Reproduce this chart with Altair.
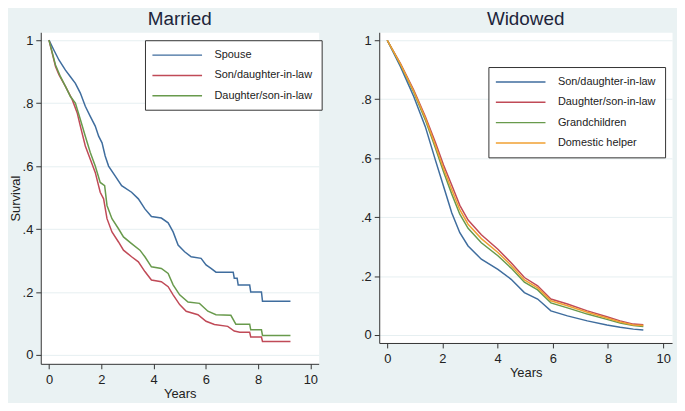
import altair as alt
import pandas as pd

# ---------------- Married panel ----------------
married_series = ["Spouse", "Son/daughter-in-law", "Daughter/son-in-law"]
married_colors = ["#3f6d9e", "#c04a57", "#689a4c"]

spouse_t = [0, 0.19, 0.38, 0.63, 0.82, 1.01, 1.2, 1.39, 1.58, 1.77, 1.9, 2.03, 2.15, 2.28, 2.53, 2.78,
            3.16, 3.42, 3.67, 3.92, 4.3, 4.56, 4.75, 4.94, 5.19, 5.44, 5.82, 6.01, 6.2, 6.39, 7.05,
            7.09, 7.2, 7.24, 7.68, 7.72, 8.13, 8.17, 9.24]
spouse_s = [1.0, 0.968, 0.937, 0.905, 0.884, 0.863, 0.832, 0.79, 0.758, 0.727, 0.695, 0.674, 0.632, 0.60,
            0.569, 0.538, 0.517, 0.496, 0.464, 0.44, 0.435, 0.42, 0.391, 0.349, 0.328, 0.312, 0.307,
            0.286, 0.275, 0.263, 0.263, 0.244, 0.244, 0.222, 0.222, 0.2, 0.2, 0.171, 0.171]

sondil_t = [0, 0.25, 0.38, 0.63, 0.89, 1.08, 1.2, 1.39, 1.58, 1.77, 1.96, 2.09, 2.22, 2.41, 2.66, 2.85,
            3.16, 3.42, 3.67, 3.92, 4.3, 4.56, 4.75, 5.0, 5.25, 5.7, 6.01, 6.33, 6.84, 7.09, 7.3, 7.68,
            7.72, 8.13, 8.17, 9.24]
sondil_s = [1.0, 0.916, 0.89, 0.853, 0.811, 0.769, 0.727, 0.664, 0.622, 0.58, 0.517, 0.496, 0.433, 0.391,
            0.359, 0.333, 0.312, 0.296, 0.265, 0.238, 0.233, 0.217, 0.191, 0.16, 0.139, 0.128, 0.107,
            0.097, 0.091, 0.076, 0.072, 0.072, 0.057, 0.057, 0.043, 0.043]

dausil_t = [0, 0.25, 0.44, 0.63, 0.82, 1.01, 1.2, 1.39, 1.58, 1.77, 1.96, 2.13, 2.22, 2.41, 2.66, 2.85,
            3.16, 3.48, 3.67, 3.92, 4.3, 4.56, 4.75, 5.0, 5.32, 5.76, 6.08, 6.39, 6.96, 7.15, 7.68, 7.72,
            8.13, 8.17, 9.24]
dausil_s = [1.0, 0.921, 0.884, 0.853, 0.821, 0.8, 0.748, 0.695, 0.643, 0.6, 0.548, 0.538, 0.475, 0.433,
            0.401, 0.375, 0.354, 0.333, 0.312, 0.28, 0.275, 0.259, 0.223, 0.191, 0.168, 0.164, 0.139,
            0.128, 0.126, 0.098, 0.098, 0.08, 0.08, 0.062, 0.062]

# ---------------- Widowed panel ----------------
widowed_series = ["Son/daughter-in-law", "Daughter/son-in-law", "Grandchildren", "Domestic helper"]
widowed_colors = ["#3f6d9e", "#c04a57", "#689a4c", "#f0a032"]

wid_t = [0, 0.48, 0.96, 1.38, 1.74, 2.04, 2.34, 2.63, 2.93, 3.41, 4.01, 4.49, 4.97, 5.45, 5.93, 6.53,
         7.25, 7.96, 8.44, 8.92, 9.28]
wid_sondil = [1.0, 0.91, 0.809, 0.707, 0.595, 0.505, 0.414, 0.347, 0.302, 0.257, 0.223, 0.189, 0.144,
              0.122, 0.082, 0.065, 0.048, 0.034, 0.026, 0.02, 0.017]
wid_dausil = [1.0, 0.921, 0.831, 0.741, 0.655, 0.577, 0.508, 0.44, 0.39, 0.34, 0.291, 0.245, 0.195,
              0.167, 0.122, 0.105, 0.082, 0.062, 0.048, 0.037, 0.035]
wid_grand = [1.0, 0.917, 0.824, 0.730, 0.636, 0.554, 0.478, 0.410, 0.362, 0.313, 0.269, 0.227, 0.179,
             0.153, 0.109, 0.092, 0.071, 0.053, 0.041, 0.032, 0.029]
wid_helper = [1.0, 0.919, 0.827, 0.736, 0.645, 0.565, 0.493, 0.425, 0.376, 0.327, 0.280, 0.236, 0.187,
              0.160, 0.116, 0.099, 0.077, 0.058, 0.044, 0.034, 0.032]

y_ticks = [0, 0.2, 0.4, 0.6, 0.8, 1.0]
x_ticks = [0, 2, 4, 6, 8, 10]

FONT = "Liberation Sans"


def build(names, ts, ss):
    rows = []
    for name, t, s in zip(names, ts, ss):
        for i, (ti, si) in enumerate(zip(t, s)):
            rows.append({"series": name, "t": ti, "s": si, "idx": i})
    return pd.DataFrame(rows)


df_m = build(married_series, [spouse_t, sondil_t, dausil_t], [spouse_s, sondil_s, dausil_s])
df_w = build(widowed_series, [wid_t] * 4, [wid_sondil, wid_dausil, wid_grand, wid_helper])

label_expr = "datum.value == 0 ? '0' : datum.value == 1 ? '1' : '.' + format(datum.value * 10, 'd')"


def x_axis():
    return alt.Axis(values=x_ticks, title="Years", grid=False, tickSize=5, labelPadding=5,
                    titlePadding=1)


def y_axis(title):
    if title:
        return alt.Axis(values=y_ticks, labelExpr=label_expr, title=title, grid=True,
                        gridColor="#e6eff1", tickSize=5, labelPadding=3, titlePadding=0)
    return alt.Axis(values=y_ticks, labelExpr=label_expr, title=None, grid=True,
                    gridColor="#e6eff1", tickSize=5, labelPadding=3)


# long horizontal line symbol: custom path scaled by sqrt(symbolSize)/2
LINE_SYMBOL = "M-1.5,0H8.5"


def legend(lx, ly):
    return alt.Legend(orient="none", legendX=lx, legendY=ly, title=None, symbolType=LINE_SYMBOL,
                      symbolSize=100, symbolStrokeWidth=1.5, labelFontSize=11, labelFont=FONT,
                      labelColor="#222222", labelOffset=49, padding=9, rowPadding=9.5,
                      strokeColor="#333333", fillColor="white", labelLimit=300)


left = alt.Chart(df_m).mark_line(strokeWidth=1.5).encode(
    x=alt.X("t:Q", scale=alt.Scale(domain=[-0.315, 10.32], nice=False, zero=False), axis=x_axis()),
    y=alt.Y("s:Q", scale=alt.Scale(domain=[-0.028, 1.025], nice=False, zero=False),
            axis=y_axis("Survival")),
    color=alt.Color("series:N", scale=alt.Scale(domain=married_series, range=married_colors),
                    legend=legend(105, 8)),
    order="idx:Q",
).properties(width=280, height=334,
             title=alt.Title("Married", fontSize=19, font=FONT, fontWeight="normal",
                             color="#20243a", offset=3, anchor="middle"))

right = alt.Chart(df_w).mark_line(strokeWidth=1.5).encode(
    x=alt.X("t:Q", scale=alt.Scale(domain=[-0.29, 10.32], nice=False, zero=False), axis=x_axis()),
    y=alt.Y("s:Q", scale=alt.Scale(domain=[-0.027, 1.027], nice=False, zero=False),
            axis=y_axis(None)),
    color=alt.Color("series:N", scale=alt.Scale(domain=widowed_series, range=widowed_colors),
                    legend=legend(110, 35)),
    order="idx:Q",
).properties(width=295, height=313,
             title=alt.Title("Widowed", fontSize=19, font=FONT, fontWeight="normal",
                             color="#20243a", offset=3, anchor="middle"))

chart = alt.hconcat(left, right, spacing=37).resolve_scale(color="independent").properties(
    background="#eaf2f3",
    padding={"left": 0, "top": 0, "right": 4, "bottom": 0},
).configure_view(fill="white", stroke="transparent").configure_axis(
    domainColor="#333333", tickColor="#333333", labelColor="#222222", titleColor="#222222",
    labelFont=FONT, titleFont=FONT, labelFontSize=13, titleFontSize=13, titleFontWeight="normal",
)

chart.save("out.html", embed_options={"renderer": "svg", "actions": False})
